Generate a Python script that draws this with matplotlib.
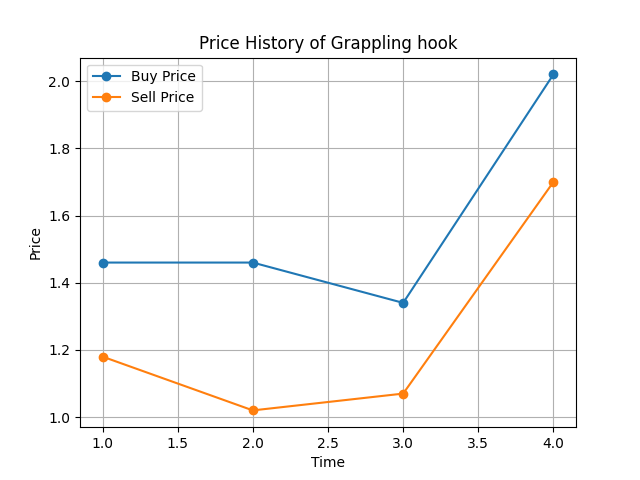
import matplotlib
matplotlib.use("Agg")
import matplotlib.pyplot as plt

time = [1, 2, 3, 4]
buy_prices = [1.46, 1.46, 1.34, 2.02]
sell_prices = [1.18, 1.02, 1.07, 1.70]

fig, ax = plt.subplots(figsize=(6.4, 4.8), dpi=100)
ax.plot(time, buy_prices, marker="o", label="Buy Price")
ax.plot(time, sell_prices, marker="o", label="Sell Price")
ax.set_xlabel("Time")
ax.set_ylabel("Price")
ax.set_title("Price History of Grappling hook")
ax.legend(loc="upper left")
ax.grid(True)
fig.savefig("out.png")
